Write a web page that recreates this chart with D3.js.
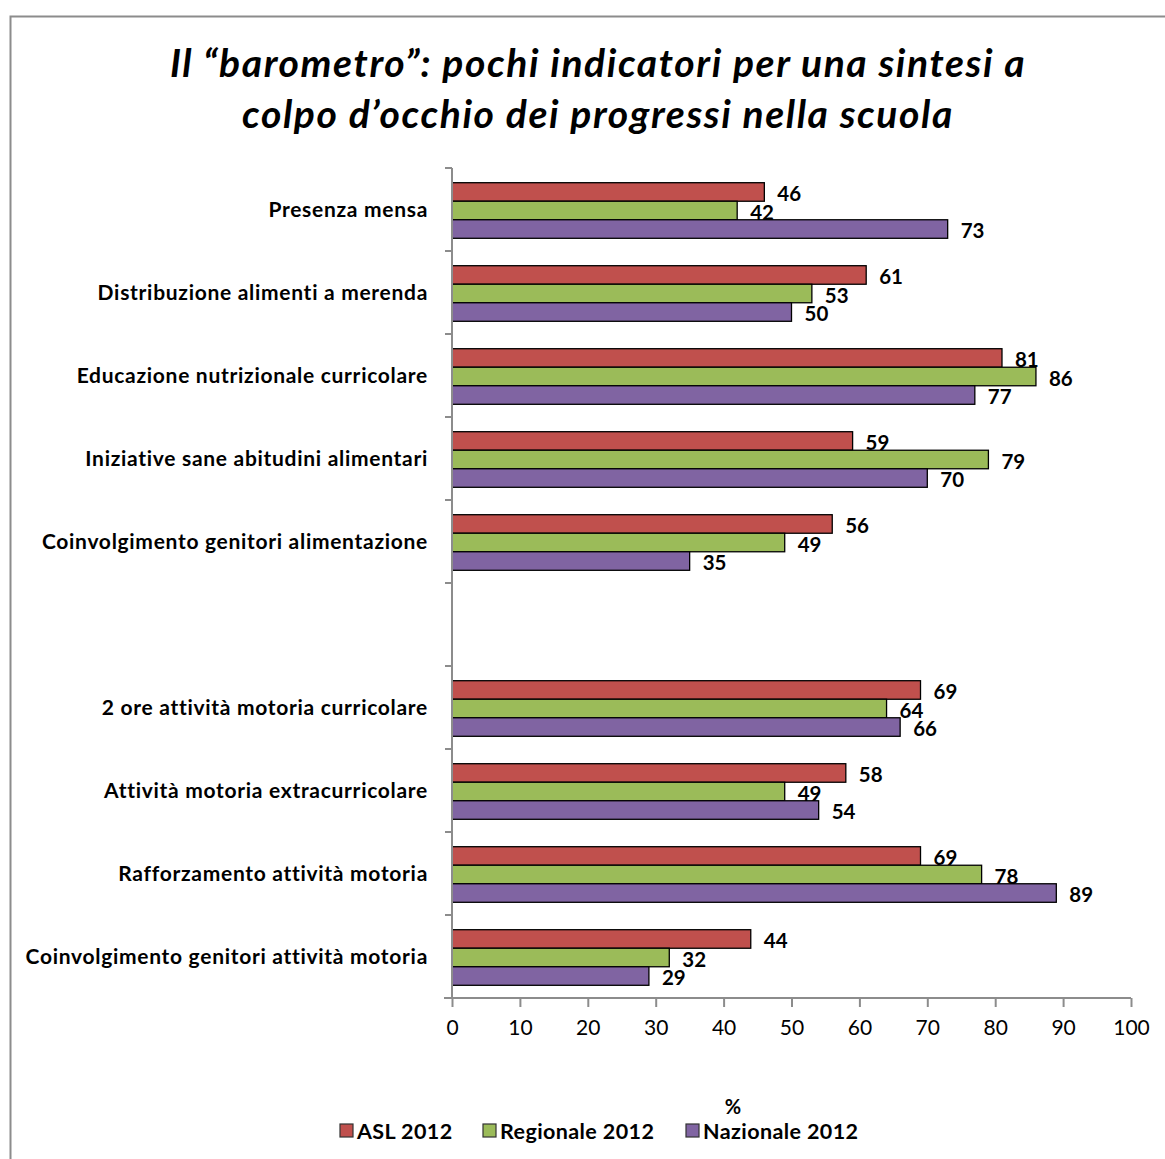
<!DOCTYPE html>
<html><head><meta charset="utf-8">
<script src="https://cdn.jsdelivr.net/npm/d3@7"></script>
<style>
body{margin:0;background:#fff;}
svg text{font-family:Lato,"Open Sans",sans-serif;}
</style></head>
<body><svg id="c" width="1165" height="1159"></svg>
<script>
const categories = [
  "Presenza mensa",
  "Distribuzione alimenti a merenda",
  "Educazione nutrizionale curricolare",
  "Iniziative sane abitudini alimentari",
  "Coinvolgimento genitori alimentazione",
  "",
  "2 ore attività motoria curricolare",
  "Attività motoria extracurricolare",
  "Rafforzamento attività motoria",
  "Coinvolgimento genitori attività motoria"
];
const seriesNames = ["ASL 2012", "Regionale 2012", "Nazionale 2012"];
const asl =       [46, 61, 81, 59, 56, null, 69, 58, 69, 44];
const regionale = [42, 53, 86, 79, 49, null, 64, 49, 78, 32];
const nazionale = [73, 50, 77, 70, 35, null, 66, 54, 89, 29];
const xTicks = [0,10,20,30,40,50,60,70,80,90,100];
const colors = ["#C0504D", "#9BBB59", "#8064A2"];
const titleLines = ["Il \u201cbarometro\u201d: pochi indicatori per una sintesi a", "colpo d\u2019occhio dei progressi nella scuola"];

(function(){
const series = [asl, regionale, nazionale];
const svg = d3.select("#c");

svg.append("path").attr("d","M10.5,1170 V16.5 H1175").attr("fill","none").attr("stroke","#8c8c8c").attr("stroke-width",2);

svg.append("g").selectAll("text").data(titleLines).join("text")
  .attr("x",598).attr("y",(d,i)=>77+i*51).attr("text-anchor","middle")
  .style("font-size","39px").style("font-weight","bold").style("font-style","italic")
  .style("letter-spacing","1.6px").attr("fill","#000")
  .text(d=>d);

const pl=452, pr=1131, pt=168, pb=998;
const x = d3.scaleLinear().domain([0,100]).range([pl,pr]);
const y = d3.scaleBand().domain(d3.range(categories.length)).range([pt,pb]);
const inner = d3.scaleBand().domain(d3.range(3)).range([0,y.bandwidth()]).paddingOuter(0.74).paddingInner(0);

const g = svg.append("g");
series.forEach((vals,si)=>{
  const data = vals.map((v,i)=>({v,i})).filter(d=>d.v!=null);
  g.selectAll(null).data(data).join("rect")
    .attr("x",x(0)).attr("y",d=>y(d.i)+inner(si)+1)
    .attr("width",d=>x(d.v)-x(0)).attr("height",inner.bandwidth())
    .attr("fill",colors[si]).attr("stroke","#000").attr("stroke-width",1.3);
});
series.forEach((vals,si)=>{
  const data = vals.map((v,i)=>({v,i})).filter(d=>d.v!=null);
  g.selectAll(null).data(data).join("text")
    .attr("x",d=>x(d.v)+13).attr("y",d=>y(d.i)+inner(si)+inner.bandwidth()/2+1)
    .attr("dy","0.45em").style("font-size","20.5px").style("font-weight","bold")
    .text(d=>d.v);
});

const ya = svg.append("g");
ya.append("line").attr("x1",pl).attr("x2",pl).attr("y1",pt).attr("y2",pb).attr("stroke","#8c8c8c").attr("stroke-width",2);
ya.selectAll(".yt").data(d3.range(categories.length+1)).join("line")
  .attr("x1",pl-7).attr("x2",pl).attr("y1",i=>pt+i*y.step()).attr("y2",i=>pt+i*y.step())
  .attr("stroke","#8c8c8c").attr("stroke-width",2);
ya.selectAll("text").data(categories).join("text")
  .attr("x",428).attr("y",(d,i)=>y(i)+y.bandwidth()/2).attr("dy","0.38em").attr("text-anchor","end")
  .style("font-size","21px").style("font-weight","bold").style("letter-spacing","0.7px").text(d=>d);

const xa = svg.append("g").attr("transform",`translate(0,${pb})`);
const axis = d3.axisBottom(x).tickValues(xTicks).tickSize(9).tickPadding(13).tickSizeOuter(0);
xa.call(axis);
xa.select(".domain").attr("stroke","#8c8c8c").attr("stroke-width",2).attr("d",`M${pl-8},0H${pr}`);
xa.selectAll(".tick line").attr("stroke","#8c8c8c").attr("stroke-width",2);
xa.selectAll(".tick text").style("font-size","21px").style("font-family","Lato,sans-serif").attr("fill","#000");

svg.append("text").attr("x",733).attr("y",1114).attr("text-anchor","middle")
  .style("font-size","20px").style("font-weight","bold").text("%");

const legX = [340, 483, 686];
const lg = svg.append("g");
seriesNames.forEach((n,i)=>{
  lg.append("rect").attr("x",legX[i]).attr("y",1124).attr("width",13).attr("height",13)
    .attr("fill",colors[i]).attr("stroke","#333").attr("stroke-width",1.2);
  lg.append("text").attr("x",legX[i]+17).attr("y",1131).attr("dy","0.38em")
    .style("font-size","21.5px").style("font-weight","bold").style("letter-spacing","0.4px").text(n);
});
})();
</script></body></html>
